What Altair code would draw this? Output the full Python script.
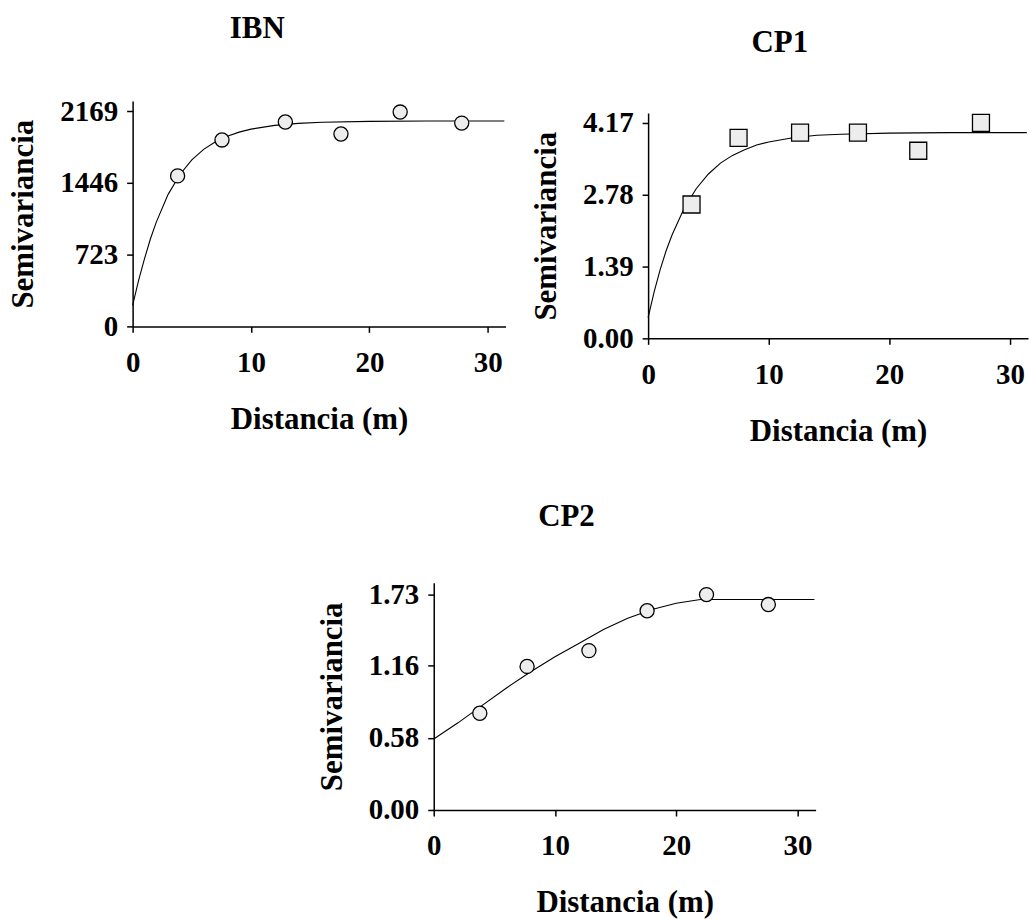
import altair as alt
import pandas as pd

# ---- data ----
x_ticks = [0, 10, 20, 30]

ibn_dist = [3.8, 7.55, 12.9, 17.6, 22.6, 27.8]
ibn_semi = [1516, 1878, 2059, 1938, 2159, 2048]
ibn_curve_x = [0, 0.5, 1, 1.5, 2, 3, 4, 5, 6, 7, 8, 9, 10, 12, 14, 16, 20, 25, 31.4]
ibn_curve_y = [211, 460, 680, 880, 1050, 1330, 1530, 1677, 1783, 1860, 1916, 1957,
               1987, 2025, 2045, 2056, 2065, 2069, 2069]
ibn_yticks = [0, 723, 1446, 2169]

cp1_dist = [3.6, 7.5, 12.6, 17.4, 22.4, 27.6]
cp1_semi = [2.59, 3.88, 3.98, 3.98, 3.63, 4.17]
cp1_curve_x = [0, 0.5, 1, 1.5, 2, 3, 4, 5, 6, 7, 8, 9, 10, 12, 14, 16, 20, 25, 31.4]
cp1_curve_y = [0.40, 0.90, 1.33, 1.70, 2.01, 2.52, 2.90, 3.18, 3.39, 3.54, 3.65, 3.74,
               3.80, 3.88, 3.93, 3.95, 3.97, 3.98, 3.98]
cp1_yticks = [0, 1.39, 2.78, 4.17]

cp2_dist = [3.8, 7.7, 12.8, 17.6, 22.5, 27.6]
cp2_semi = [0.777, 1.153, 1.28, 1.60, 1.73, 1.65]
cp2_curve_x = [0, 2, 4, 6, 8, 10, 12, 14, 16, 18, 20, 22, 31.4]
cp2_curve_y = [0.57, 0.70, 0.84, 0.98, 1.11, 1.23, 1.34, 1.45, 1.54, 1.61, 1.66, 1.69, 1.69]
cp2_yticks = [0, 0.58, 1.16, 1.73]

FONT = "Liberation Serif"


def panel(title, dist, semi, cx, cy, yticks, ymax, yfmt, shape, size, w, h, toff, drop=0):
    pts = pd.DataFrame({"d": dist, "s": semi})
    cur = pd.DataFrame({"d": cx, "s": cy})
    xs = alt.Scale(domain=[0, 31.5], nice=False, zero=False)
    if drop:
        # plot area starts a little lower than the neighbouring panel
        ys = alt.Scale(domain=[0, ymax], nice=False, zero=False, range=[h + drop, drop])
    else:
        ys = alt.Scale(domain=[0, ymax], nice=False, zero=False)
    xax = alt.Axis(values=x_ticks, title="Distancia (m)", format="d")
    yax = alt.Axis(values=yticks, title="Semivariancia", format=yfmt)
    line = alt.Chart(cur).mark_line(color="black", strokeWidth=1.1).encode(
        x=alt.X("d:Q", scale=xs, axis=xax),
        y=alt.Y("s:Q", scale=ys, axis=yax),
    )
    points = alt.Chart(pts).mark_point(
        shape=shape, size=size, filled=True, fill="#ededed", stroke="black",
        strokeWidth=1.3, opacity=1
    ).encode(
        x=alt.X("d:Q", scale=xs),
        y=alt.Y("s:Q", scale=ys),
    )
    return alt.layer(line, points).properties(
        width=w, height=h + drop,
        title=alt.TitleParams(text=title, anchor="middle", frame="bounds",
                              font=FONT, fontSize=31, fontWeight="bold",
                              color="black", offset=toff),
    )


def spacer(w, h):
    return alt.Chart(pd.DataFrame({"a": [0]})).mark_point(opacity=0).encode(
        opacity=alt.value(0)
    ).properties(width=w, height=h)


ibn = panel("IBN", ibn_dist, ibn_semi, ibn_curve_x, ibn_curve_y, ibn_yticks, 2270, "d",
            "circle", 200, 374, 226, 52)
cp1 = panel("CP1", cp1_dist, cp1_semi, cp1_curve_x, cp1_curve_y, cp1_yticks, 4.36, ".2f",
            "square", 290, 381, 226, 42, drop=12)
cp2 = panel("CP2", cp2_dist, cp2_semi, cp2_curve_x, cp2_curve_y, cp2_yticks, 1.826, ".2f",
            "circle", 200, 383, 228, 48)

top = alt.hconcat(ibn, cp1, spacing=23)
bottom = alt.hconcat(spacer(184, 10), cp2, spacing=0)

chart = alt.vconcat(top, bottom, spacing=54).properties(
    padding={"left": 8, "top": 12, "right": 0, "bottom": 0}
).configure_view(stroke=None).configure_axis(
    grid=False,
    domainColor="black",
    domainWidth=1.5,
    tickColor="black",
    tickWidth=1.5,
    tickSize=6,
    labelFont=FONT,
    labelFontSize=29,
    labelFontWeight="bold",
    labelColor="black",
    titleFont=FONT,
    titleFontSize=31,
    titleFontWeight="bold",
    titleColor="black",
    labelFlush=False,
    labelOverlap=False,
).configure_axisX(
    labelPadding=16, titlePadding=27
).configure_axisY(
    labelPadding=9, titlePadding=20
)

chart.save("out.html", embed_options={"renderer": "svg", "actions": False})
